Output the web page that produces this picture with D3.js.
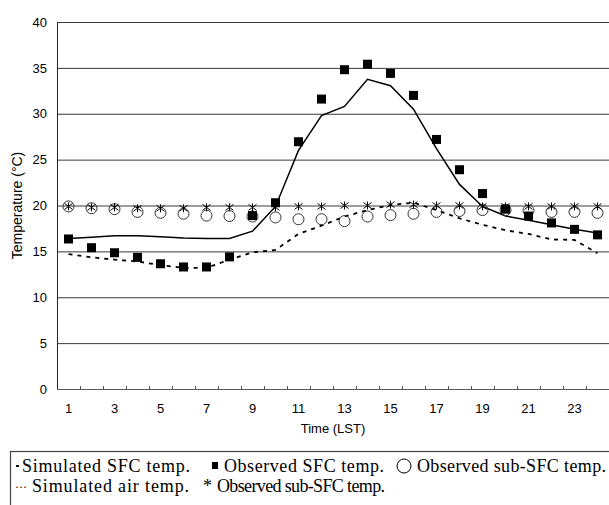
<!DOCTYPE html>
<html lang="en">
<head>
    <meta charset="UTF-8">
    <title>Temperature</title>
    <script src="https://cdnjs.cloudflare.com/ajax/libs/d3/7.8.5/d3.min.js"></script>
    <style>
        body { margin: 0; background: #fff; }
        svg { display: block; }
        .tick text { font-family: "Liberation Sans", Arial, sans-serif; font-size: 13px; fill: #000; }
        .legend text { font-family: "Liberation Serif", "Times New Roman", serif; font-size: 18px; fill: #000; }
    </style>
</head>
<body>
    <div id="chart"></div>
    <script>
        // hours of the day (LST)
        var hours = d3.range(1, 25);
        var hourLabels = [1, 3, 5, 7, 9, 11, 13, 15, 17, 19, 21, 23];
        var tempTicks = [0, 5, 10, 15, 20, 25, 30, 35, 40];

        // values (deg C)
        var simSfc = [16.4, 16.55, 16.7, 16.7, 16.6, 16.45, 16.4, 16.4, 17.2, 19.9, 26.0, 29.8,
            30.8, 33.75, 33.05, 30.5, 26.2, 22.3, 19.9, 18.85, 18.4, 17.9, 17.4, 17.0];
        var obsSfc = [16.35, 15.4, 14.85, 14.35, 13.65, 13.3, 13.3, 14.4, 18.9, 20.3, 26.95, 31.6,
            34.8, 35.4, 34.4, 32.0, 27.2, 23.9, 21.3, 19.6, 18.85, 18.1, 17.4, 16.8];
        var simAir = [14.7, 14.35, 14.1, 13.9, 13.5, 13.2, 13.2, 14.1, 14.9, 15.15, 16.9, 17.8,
            18.8, 19.5, 20.05, 20.3, 19.5, 18.6, 17.9, 17.3, 16.9, 16.3, 16.25, 14.8];
        var obsSubCircle = [19.9, 19.7, 19.6, 19.3, 19.2, 19.1, 18.9, 18.85, 18.8, 18.7, 18.5, 18.5,
            18.3, 18.8, 18.95, 19.1, 19.3, 19.4, 19.5, 19.5, 19.45, 19.3, 19.3, 19.2];
        var obsSubStar = [19.9, 19.8, 19.8, 19.7, 19.7, 19.7, 19.8, 19.8, 19.8, 19.8, 19.9, 19.9,
            20.0, 20.0, 20.1, 20.1, 20.0, 20.0, 19.9, 19.9, 19.9, 19.9, 19.9, 19.9];

        var W = 609, H = 505;
        var pl = 57, pr = 609, pt = 22, pb = 389;

        var svg = d3.select('#chart').append('svg')
            .attr('width', W)
            .attr('height', H);

        var x = d3.scaleBand().domain(hours).range([pl, pr]);
        var xEdge = d3.scaleLinear().domain([0, 24]).range([pl, pr]);
        var y = d3.scaleLinear().domain([0, 40]).range([pb, pt]);
        var cx = function (i) { return x(hours[i]) + x.bandwidth() / 2; };

        // horizontal grid
        svg.append('g')
            .attr('transform', 'translate(' + pl + ',0)')
            .call(d3.axisLeft(y).tickValues(tempTicks.slice(1)).tickSize(-(pr - pl)).tickFormat(''))
            .call(g => g.select('.domain').remove())
            .call(g => g.selectAll('line').attr('stroke', '#3a3a3a'));

        // y axis
        svg.append('g')
            .attr('transform', 'translate(' + pl + ',0)')
            .call(d3.axisLeft(y).tickValues(tempTicks).tickSize(0).tickPadding(10))
            .call(g => g.select('.domain').attr('stroke', '#222'));

        // x axis: labels on odd hours, ticks between hours pointing up
        svg.append('g')
            .attr('transform', 'translate(0,' + pb + ')')
            .call(d3.axisBottom(x).tickSize(0).tickPadding(15)
                .tickFormat(d => hourLabels.indexOf(d) >= 0 ? d : ''))
            .call(g => g.select('.domain').attr('stroke', '#555'));

        svg.append('g')
            .attr('transform', 'translate(0,' + pb + ')')
            .call(d3.axisBottom(xEdge).tickValues(d3.range(1, 24)).tickSize(-3).tickFormat(''))
            .call(g => g.select('.domain').remove())
            .call(g => g.selectAll('line').attr('stroke', '#555'));

        // axis titles
        svg.append('text')
            .attr('x', (pl + pr) / 2)
            .attr('y', 433)
            .attr('text-anchor', 'middle')
            .style('font-family', '"Liberation Sans", Arial, sans-serif')
            .style('font-size', '13px')
            .text('Time (LST)');

        svg.append('text')
            .attr('transform', 'translate(22,' + ((pt + pb) / 2) + ') rotate(-90)')
            .attr('text-anchor', 'middle')
            .style('font-family', '"Liberation Sans", Arial, sans-serif')
            .style('font-size', '14px')
            .text('Temperature (°C)');

        var line = d3.line()
            .x((d, i) => cx(i))
            .y(d => y(d));

        // simulated air temp (short dashes)
        svg.append('path')
            .datum(simAir)
            .attr('d', line)
            .attr('fill', 'none')
            .attr('stroke', '#000')
            .attr('stroke-width', 1.8)
            .attr('stroke-dasharray', '4,5');

        // simulated surface temp (solid)
        svg.append('path')
            .datum(simSfc)
            .attr('d', line)
            .attr('fill', 'none')
            .attr('stroke', '#000')
            .attr('stroke-width', 1.5);

        // observed sub-surface circles
        svg.append('g').selectAll('circle')
            .data(obsSubCircle)
            .join('circle')
            .attr('cx', (d, i) => cx(i))
            .attr('cy', d => y(d))
            .attr('r', 5.5)
            .attr('fill', 'none')
            .attr('stroke', '#333')
            .attr('stroke-width', 1);

        // observed sub-surface stars
        var s = 4;
        svg.append('g').selectAll('path')
            .data(obsSubStar)
            .join('path')
            .attr('transform', (d, i) => 'translate(' + cx(i) + ',' + y(d) + ')')
            .attr('d', 'M0,' + (-s) + 'V' + s + 'M' + (-s) + ',' + (-s * 0.75) + 'L' + s + ',' + (s * 0.75) +
                'M' + (-s) + ',' + (s * 0.75) + 'L' + s + ',' + (-s * 0.75))
            .attr('stroke', '#000')
            .attr('stroke-width', 1)
            .attr('fill', 'none');

        // observed surface squares
        var q = 9;
        svg.append('g').selectAll('rect')
            .data(obsSfc)
            .join('rect')
            .attr('x', (d, i) => cx(i) - q / 2)
            .attr('y', d => y(d) - q / 2)
            .attr('width', q)
            .attr('height', q)
            .attr('fill', '#000');

        // legend box
        var lg = svg.append('g').attr('class', 'legend');
        lg.append('rect')
            .attr('x', 10.5).attr('y', 451.5)
            .attr('width', 640).attr('height', 100)
            .attr('fill', 'none')
            .attr('stroke', '#444')
            .attr('stroke-width', 1.2);

        var row1 = 472, row2 = 492;
        function item(xp, yp, len, txt) {
            lg.append('text').attr('x', xp).attr('y', yp)
                .attr('textLength', len).attr('lengthAdjust', 'spacing')
                .text(txt);
        }
        lg.append('rect').attr('x', 16).attr('y', row1 - 7).attr('width', 3).attr('height', 2).attr('fill', '#000');
        item(22, row1, 168, 'Simulated SFC temp.');
        lg.append('rect').attr('x', 212).attr('y', row1 - 10).attr('width', 6).attr('height', 7).attr('fill', '#000');
        item(224, row1, 160, 'Observed SFC temp.');
        lg.append('circle').attr('cx', 404).attr('cy', row1 - 6).attr('r', 7)
            .attr('fill', 'none').attr('stroke', '#000').attr('stroke-width', 1);
        item(417, row1, 189, 'Observed sub-SFC temp.');

        lg.append('text').attr('x', 15).attr('y', row2 - 1).style('font-size', '12px').text('···');
        item(32, row2, 157, 'Simulated air temp.');
        lg.append('text').attr('x', 203).attr('y', row2).text('*');
        item(217, row2, 168, 'Observed sub-SFC temp.');
    </script>
</body>
</html>
